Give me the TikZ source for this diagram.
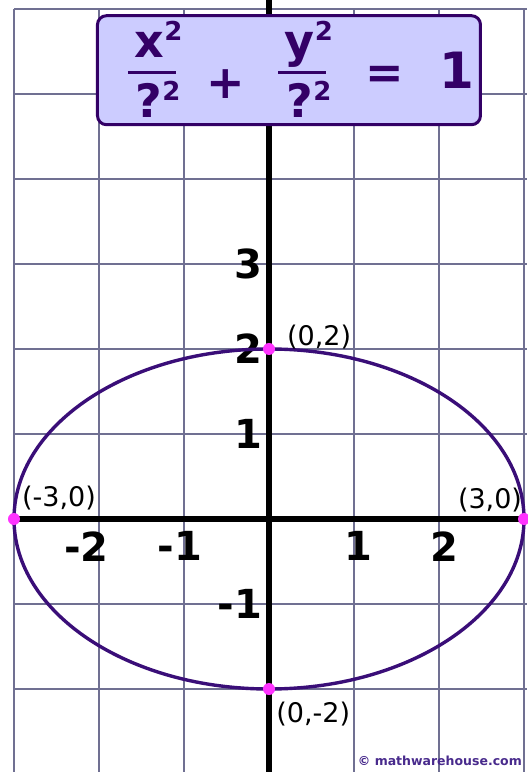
\documentclass[tikz,border=0pt]{standalone}
\usepackage{fontspec}
\setmainfont{DejaVu Sans}
\usetikzlibrary{positioning}
\definecolor{gridgray}{RGB}{112,112,146}
\definecolor{curvepurple}{RGB}{58,14,120}
\definecolor{dotpink}{RGB}{255,51,255}
\definecolor{boxfill}{RGB}{204,204,255}
\definecolor{eqpurple}{RGB}{51,0,102}
\definecolor{notepurple}{RGB}{72,42,140}
\newcommand{\sqr}[1]{#1\raisebox{17pt}{\fontsize{26}{26}\selectfont 2}}

\begin{document}
\begin{tikzpicture}[
  x=85pt, y=85pt,
  gridline/.style={draw=gridgray, line width=1.6pt},
  axisline/.style={draw=black, line width=5.5pt},
  curve/.style={draw=curvepurple, line width=3.4pt},
  vertex/.style={circle, fill=dotpink, inner sep=0pt, minimum size=12pt},
  ticklabel/.style={font=\fontsize{40}{40}\selectfont\bfseries, inner sep=0pt},
  pointlabel/.style={font=\fontsize{27}{27}\selectfont, inner sep=0pt},
  eqbox/.style={draw=eqpurple, fill=boxfill, line width=3pt, rounded corners=9pt,
    minimum width=383pt, minimum height=109pt},
  eqtext/.style={text=eqpurple, font=\fontsize{46}{46}\selectfont\bfseries, inner sep=0pt},
  fracbar/.style={draw=eqpurple, line width=3.2pt}
]
\useasboundingbox ({-269/85},{-253/85}) rectangle ({258/85},{519/85});

\foreach \gx in {-3,...,3}
  \draw[gridline] (\gx,6) -- (\gx,{-253/85});
\foreach \gy in {-2,...,6}
  \draw[gridline] (-3,\gy) -- ({258/85},\gy);

\coordinate (ytop) at (0,{519/85});
\coordinate (ybot) at (0,{-253/85});
\coordinate (xleft) at (-3,0);
\coordinate (xright) at (3,0);
\draw[axisline] (ytop) -- (ybot);
\draw[axisline] (xleft) -- (xright);

\foreach \yy/\lab [count=\i] in {3/3,2/2,1/1,-1/-1}
  \node[ticklabel, anchor=east] (ytick\i) at (-0.08,\yy) {\lab};
\foreach \xx/\lab [count=\i] in {-2.15/-2,-1.05/-1,1.05/1,2.06/2}
  \node[ticklabel] (xtick\i) at (\xx,-0.32) {\lab};

\draw[curve] (0,0) ellipse [x radius=3, y radius=2];

\node[vertex] (top) at (0,2) {};
\node[vertex] (bottom) at (0,-2) {};
\node[vertex] (left) at (-3,0) {};
\node[vertex] (right) at (3,0) {};

\node[pointlabel] (toplabel) at (0.59,2.14) {(0,2)};
\node[pointlabel] (rightlabel) at (2.6,0.22) {(3,0)};
\node[pointlabel] (leftlabel) at (-2.47,0.25) {(-3,0)};
\node[pointlabel] (bottomlabel) at (0.52,-2.29) {(0,-2)};
\node[font=\fontsize{12.5}{12.5}\selectfont\bfseries, text=notepurple, inner sep=0pt]
  (credit) at (2.01,-2.85) {© mathwarehouse.com};

\node[eqbox] (eqbox) at (0.235,5.28) {};
\node[eqtext, anchor=base] (xnum) at (-1.30,5.435) {\sqr{x}};
\node[eqtext, anchor=base] (xden) at (-1.306,4.718) {\sqr{?}};
\coordinate (xbarl) at (-1.659,5.253);
\coordinate (xbarr) at (-1.094,5.253);
\draw[fracbar] (xbarl) -- (xbarr);
\node[eqtext] (plus) at (-0.506,5.118) {+};
\node[eqtext, anchor=base] (ynum) at (0.471,5.435) {\sqr{y}};
\node[eqtext, anchor=base] (yden) at (0.471,4.718) {\sqr{?}};
\coordinate (ybarl) at (0.106,5.253);
\coordinate (ybarr) at (0.671,5.253);
\draw[fracbar] (ybarl) -- (ybarr);
\node[eqtext] (equals) at (1.365,5.2) {=};
\node[eqtext, font=\fontsize{50}{50}\selectfont\bfseries] (one) at (2.206,5.28) {1};

\end{tikzpicture}
\end{document}
